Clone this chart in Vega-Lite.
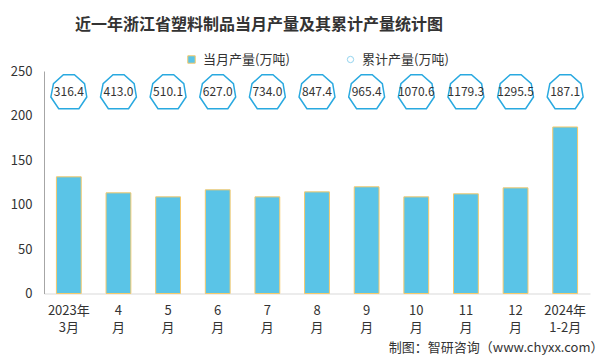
{
  "$schema": "https://vega.github.io/schema/vega-lite/v6.json",
  "width": 546,
  "height": 222.5,
  "autosize": "none",
  "padding": {"left": 44, "top": 71, "right": 17, "bottom": 65.5},
  "background": "white",
  "config": {
    "view": {"stroke": null},
    "font": "Noto Sans CJK SC",
    "legend": {"labelOffset": 5, "labelFontSize": 13, "labelColor": "#333333"}
  },
  "title": {
    "text": "近一年浙江省塑料制品当月产量及其累计产量统计图",
    "anchor": "start",
    "frame": "group",
    "dx": 31,
    "offset": 20,
    "fontSize": 16,
    "fontWeight": "bold",
    "color": "#333333"
  },
  "data": {
    "values": [
      {"month": "2023年|3月", "value": 131.1, "cum": 316.4},
      {"month": "4|月", "value": 113.1, "cum": 413.0},
      {"month": "5|月", "value": 108.6, "cum": 510.1},
      {"month": "6|月", "value": 116.5, "cum": 627.0},
      {"month": "7|月", "value": 108.6, "cum": 734.0},
      {"month": "8|月", "value": 114.2, "cum": 847.4},
      {"month": "9|月", "value": 119.9, "cum": 965.4},
      {"month": "10|月", "value": 108.6, "cum": 1070.6},
      {"month": "11|月", "value": 112.0, "cum": 1179.3},
      {"month": "12|月", "value": 118.7, "cum": 1295.5},
      {"month": "2024年|1-2月", "value": 187.1, "cum": 187.1}
    ]
  },
  "encoding": {
    "x": {
      "field": "month",
      "type": "nominal",
      "sort": null,
      "scale": {"paddingInner": 0.5, "paddingOuter": 0.25},
      "axis": {
        "labelExpr": "split(datum.label, '|')",
        "labelAngle": 0,
        "labelFontSize": 13,
        "labelColor": "#333333",
        "labelPadding": 11,
        "labelLineHeight": 17,
        "labelBaseline": "top",
        "ticks": false,
        "domainColor": "#d9d9d9",
        "title": "制图：智研咨询（www.chyxx.com）",
        "titleX": 559,
        "titleY": 54,
        "titleAlign": "right",
        "titleAnchor": "end",
        "titleBaseline": "middle",
        "titleFontSize": 13,
        "titleFontWeight": "normal",
        "titleColor": "#333333"
      }
    }
  },
  "layer": [
    {
      "mark": {"type": "bar", "stroke": "#F5C96B", "strokeWidth": 1},
      "encoding": {
        "y": {
          "field": "value",
          "type": "quantitative",
          "scale": {"domain": [0, 250], "nice": false},
          "axis": {
            "values": [0, 50, 100, 150, 200, 250],
            "grid": false,
            "ticks": false,
            "domainColor": "#a6a6a6",
            "labelPadding": 12,
            "labelFontSize": 13,
            "labelColor": "#333333",
            "title": null
          }
        },
        "fill": {
          "datum": "当月产量(万吨)",
          "type": "nominal",
          "scale": {"range": ["#5AC4E7"]},
          "legend": {
            "orient": "none",
            "legendX": 141,
            "legendY": -18,
            "title": null,
            "symbolType": "square",
            "symbolSize": 55,
            "symbolStrokeColor": "#F5C96B",
            "symbolStrokeWidth": 1
          }
        }
      }
    },
    {
      "mark": {
        "type": "point",
        "shape": "M-0.29,-0.91L0.3,-0.91L0.84,-0.43L0.96,0.28L0.54,0.91L-0.54,0.91L-0.96,0.28L-0.82,-0.43Z",
        "size": 1399,
        "filled": false,
        "strokeWidth": 1.5,
        "opacity": 1
      },
      "encoding": {
        "y": {"datum": 226.7, "type": "quantitative"},
        "stroke": {
          "datum": "累计产量(万吨)",
          "type": "nominal",
          "scale": {"range": ["#29A9E0"]},
          "legend": {
            "orient": "none",
            "legendX": 300,
            "legendY": -18,
            "title": null,
            "symbolType": "circle",
            "symbolSize": 40,
            "symbolStrokeWidth": 1,
            "symbolOpacity": 0.5
          }
        }
      }
    },
    {
      "mark": {"type": "text", "fontSize": 12, "color": "#333333"},
      "encoding": {
        "y": {"datum": 226.7, "type": "quantitative"},
        "text": {"field": "cum", "type": "quantitative", "format": ".1f"}
      }
    }
  ]
}
